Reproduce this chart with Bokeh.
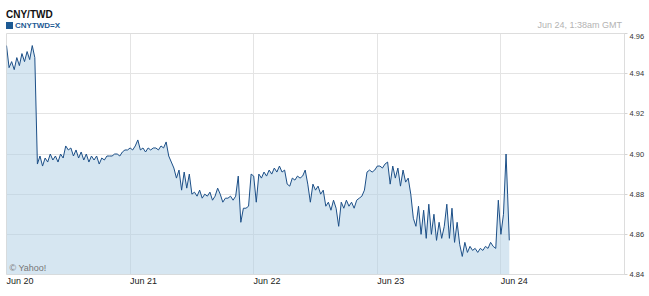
from bokeh.plotting import figure
from bokeh.layouts import column
from bokeh.models import Div, FixedTicker, PrintfTickFormatter, Range1d, Label
from bokeh.embed import file_html
from bokeh.resources import INLINE

# CNY/TWD intraday quotes, one value every half hour from midnight of each day
jun20 = [4.954, 4.943, 4.946, 4.942, 4.948, 4.944, 4.950, 4.946, 4.951, 4.947, 4.954, 4.948,
         4.895, 4.899, 4.894, 4.898, 4.896, 4.900, 4.897, 4.899, 4.896, 4.900, 4.898, 4.904,
         4.902, 4.903, 4.899, 4.902, 4.898, 4.901, 4.897, 4.900, 4.896, 4.899, 4.897, 4.899,
         4.895, 4.898, 4.897, 4.899, 4.899, 4.899, 4.900, 4.900, 4.899, 4.901, 4.902, 4.902]
jun21 = [4.903, 4.902, 4.904, 4.907, 4.902, 4.903, 4.901, 4.903, 4.902, 4.903, 4.903, 4.902,
         4.904, 4.903, 4.906, 4.899, 4.896, 4.893, 4.888, 4.892, 4.882, 4.891, 4.883, 4.890,
         4.880, 4.881, 4.879, 4.882, 4.878, 4.880, 4.879, 4.881, 4.877, 4.879, 4.883, 4.880,
         4.876, 4.878, 4.878, 4.879, 4.877, 4.879, 4.889, 4.866, 4.873, 4.873, 4.874, 4.890]
jun22 = [4.889, 4.876, 4.890, 4.888, 4.891, 4.889, 4.892, 4.890, 4.893, 4.891, 4.894, 4.891,
         4.892, 4.885, 4.884, 4.888, 4.887, 4.889, 4.888, 4.889, 4.892, 4.885, 4.876, 4.885,
         4.882, 4.884, 4.880, 4.882, 4.874, 4.876, 4.872, 4.877, 4.873, 4.864, 4.876, 4.873,
         4.877, 4.874, 4.876, 4.873, 4.877, 4.878, 4.879, 4.882, 4.891, 4.892, 4.891, 4.892]
jun23 = [4.894, 4.894, 4.893, 4.895, 4.896, 4.885, 4.894, 4.888, 4.893, 4.884, 4.892, 4.886,
         4.888, 4.880, 4.868, 4.864, 4.874, 4.860, 4.872, 4.858, 4.875, 4.860, 4.870, 4.857,
         4.866, 4.858, 4.864, 4.875, 4.858, 4.873, 4.856, 4.866, 4.855, 4.849, 4.856, 4.851,
         4.854, 4.852, 4.853, 4.851, 4.853, 4.852, 4.854, 4.853, 4.856, 4.854, 4.853, 4.877]
# last quotes before 1:38am on Jun 24 (hours after midnight)
jun24_hours = [0.0, 0.5, 1.0, 1.3, 1.63]
jun24 = [4.860, 4.870, 4.900, 4.880, 4.857]

day_labels = ["Jun 20", "Jun 21", "Jun 22", "Jun 23", "Jun 24"]
y_ticks = [4.84, 4.86, 4.88, 4.90, 4.92, 4.94, 4.96]

# hours since Jun 20 00:00
hours, rate = [], []
for d, vals in enumerate([jun20, jun21, jun22, jun23]):
    hours += [24 * d + 0.5 * i for i in range(len(vals))]
    rate += vals
hours += [96 + h for h in jun24_hours]
rate += jun24

W = 649
HEAD = 33
PH = 296 - HEAD
L, R = 6, 624
FRAME_H = 241
X0, X1 = 0, 120
Y0, Y1 = 4.84, 4.96
FONT = "'Liberation Sans', Arial, sans-serif"

header = Div(width=W, height=HEAD, margin=0, text=f"""
<div style="position:relative;width:{W}px;height:{HEAD}px;font-family:{FONT};white-space:nowrap">
  <span style="position:absolute;left:6px;top:9px;font-size:10px;font-weight:bold;color:#111;line-height:12px">CNY/TWD</span>
  <span style="position:absolute;left:6px;top:21px;font-size:8px;font-weight:bold;color:#1d5a94;line-height:10px">
    <span style="display:inline-block;width:7px;height:7px;background:#1d5a94;margin-right:2px;vertical-align:-1px"></span>CNYTWD=X</span>
  <span style="position:absolute;right:{W - 622}px;top:20px;font-size:9px;color:#b3b3b3;line-height:10px">Jun 24, 1:38am GMT</span>
</div>""")

p = figure(width=W, height=PH, output_backend="svg", toolbar_location=None,
           x_range=Range1d(X0, X1), y_range=Range1d(Y0, Y1),
           y_axis_location="right", min_border_left=L, min_border_right=W - R,
           min_border_top=0, min_border_bottom=PH - FRAME_H, margin=0)
p.background_fill_color = "white"
p.border_fill_color = "white"
p.outline_line_color = "#dddddd"

grid_ticks = [24 * i for i in range(len(day_labels))]
p.xgrid.ticker = FixedTicker(ticks=grid_ticks)
p.xgrid.grid_line_color = "#e4e4e4"
p.ygrid.grid_line_color = "#e4e4e4"
p.ygrid.ticker = FixedTicker(ticks=y_ticks)

# day labels start at their gridline: place each tick half a label width to the right
shift = 2.6
xa = p.xaxis[0]
label_ticks = [t + shift for t in grid_ticks]
xa.ticker = FixedTicker(ticks=label_ticks)
xa.major_label_overrides = {t: s for t, s in zip(label_ticks, day_labels)}
xa.axis_line_color = None
xa.major_tick_line_color = None
xa.minor_tick_line_color = None
xa.major_tick_out = 0
xa.major_tick_in = 0
xa.major_label_standoff = 1
xa.major_label_text_font = "Liberation Sans"
xa.major_label_text_font_size = "9px"
xa.major_label_text_color = "#222222"

ya = p.yaxis[0]
ya.ticker = FixedTicker(ticks=y_ticks)
ya.formatter = PrintfTickFormatter(format="%.2f")
ya.axis_line_color = "#dddddd"
ya.major_tick_line_color = "#d4d4d4"
ya.major_tick_in = 0
ya.major_tick_out = 3
ya.minor_tick_line_color = None
ya.major_label_standoff = 2
ya.major_label_text_font = "Liberation Sans"
ya.major_label_text_font_size = "7.5px"
ya.major_label_text_color = "#333333"

p.varea(x=hours, y1=[Y0] * len(hours), y2=rate, fill_color="#adcde3", fill_alpha=0.5)
p.line(x=hours, y=rate, line_color="#1c4f87", line_width=1)

p.add_layout(Label(x=3, y=2, x_units="screen", y_units="screen", text="© Yahoo!",
                   text_font="Liberation Sans", text_font_size="9px", text_color="#777777"))

layout = column(header, p, spacing=0, margin=0)
open("out.html", "w").write(file_html(layout, INLINE))
